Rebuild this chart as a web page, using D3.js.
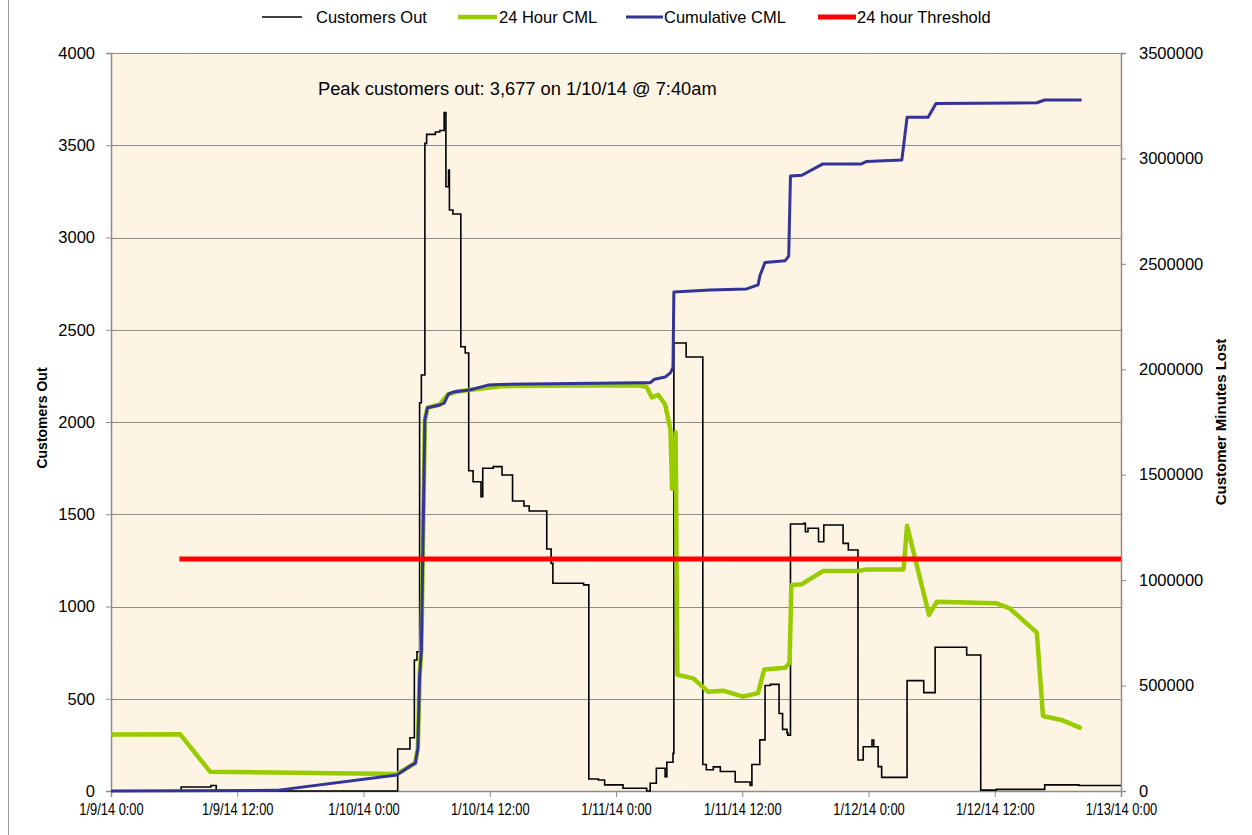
<!DOCTYPE html>
<html><head><meta charset="utf-8">
<script src="https://cdn.jsdelivr.net/npm/d3@7"></script>
<style>
body{margin:0;background:#fff;}
svg{display:block;}
text{font-family:"Liberation Sans",Arial,sans-serif;fill:#000;}
</style></head><body>
<svg id="chart" width="1252" height="835"></svg>
<script>
// ---- Data ----
const seriesNames = ["Customers Out","24 Hour CML","Cumulative CML","24 hour Threshold"];
const leftTicks = [0,500,1000,1500,2000,2500,3000,3500,4000];
const rightTicks = [0,500000,1000000,1500000,2000000,2500000,3000000,3500000];

const outTimes = ["2014-01-09 00:00","2014-01-09 06:40","2014-01-09 09:30","2014-01-09 10:00",
"2014-01-10 03:15","2014-01-10 04:25","2014-01-10 04:50","2014-01-10 05:05","2014-01-10 05:20","2014-01-10 05:30",
"2014-01-10 05:50","2014-01-10 06:00","2014-01-10 06:50","2014-01-10 07:15","2014-01-10 07:40","2014-01-10 07:50",
"2014-01-10 08:05","2014-01-10 08:10","2014-01-10 08:30","2014-01-10 09:15","2014-01-10 09:40","2014-01-10 10:00",
"2014-01-10 10:25","2014-01-10 11:10","2014-01-10 11:20","2014-01-10 12:20","2014-01-10 13:10","2014-01-10 14:10",
"2014-01-10 15:15","2014-01-10 15:45","2014-01-10 17:25","2014-01-10 17:50","2014-01-10 18:00","2014-01-10 20:55",
"2014-01-10 21:25","2014-01-10 22:20","2014-01-10 22:55","2014-01-11 00:40","2014-01-11 02:55","2014-01-11 03:15",
"2014-01-11 03:50","2014-01-11 04:40","2014-01-11 04:50","2014-01-11 05:25","2014-01-11 05:30","2014-01-11 06:40",
"2014-01-11 08:15","2014-01-11 08:35","2014-01-11 09:15","2014-01-11 09:55","2014-01-11 11:20","2014-01-11 12:45",
"2014-01-11 12:55","2014-01-11 13:40","2014-01-11 14:10","2014-01-11 14:40","2014-01-11 15:30","2014-01-11 15:50",
"2014-01-11 16:15","2014-01-11 16:20","2014-01-11 16:35","2014-01-11 17:50","2014-01-11 18:00","2014-01-11 18:15",
"2014-01-11 19:15","2014-01-11 19:45","2014-01-11 21:35","2014-01-11 22:05","2014-01-11 23:00","2014-01-11 23:30",
"2014-01-12 00:20","2014-01-12 00:30","2014-01-12 00:55","2014-01-12 01:15","2014-01-12 03:40","2014-01-12 05:15",
"2014-01-12 06:20","2014-01-12 09:20","2014-01-12 10:40","2014-01-12 12:10","2014-01-12 16:45","2014-01-12 20:00",
"2014-01-13 00:00"];
const outValues = [0,22,30,0,
228,289,710,755,2104,2255,
3510,3559,3572,3580,3677,3275,
3366,3149,3127,2408,2374,1736,
1676,1595,1749,1758,1713,1572,
1545,1518,1312,1234,1126,1117,
65,60,33,15,0,42,
123,78,156,204,2428,2352,
144,115,131,106,49,30,
144,277,572,578,420,334,
315,303,1447,1451,1405,1424,
1351,1442,1342,1306,168,240,
276,240,132,74,598,533,
779,737,5,9,33,30,
30];

const cml24Times = ["2014-01-09 00:00","2014-01-09 06:35","2014-01-09 09:25","2014-01-10 03:10","2014-01-10 04:35",
"2014-01-10 04:55","2014-01-10 05:10","2014-01-10 05:20","2014-01-10 05:30","2014-01-10 05:40","2014-01-10 05:50",
"2014-01-10 06:05","2014-01-10 07:15","2014-01-10 08:00","2014-01-10 08:50","2014-01-10 10:05","2014-01-10 13:00",
"2014-01-11 02:15","2014-01-11 02:55","2014-01-11 03:25","2014-01-11 04:00","2014-01-11 04:40","2014-01-11 05:10",
"2014-01-11 05:20","2014-01-11 05:40","2014-01-11 05:50","2014-01-11 07:20","2014-01-11 08:45","2014-01-11 10:10",
"2014-01-11 12:05","2014-01-11 13:30","2014-01-11 14:05","2014-01-11 16:05","2014-01-11 16:30","2014-01-11 16:40",
"2014-01-11 17:40","2014-01-11 19:40","2014-01-11 23:00","2014-01-11 23:50","2014-01-12 03:20","2014-01-12 03:40",
"2014-01-12 05:45","2014-01-12 06:30","2014-01-12 12:10","2014-01-12 13:25","2014-01-12 16:00","2014-01-12 16:35",
"2014-01-12 18:20","2014-01-12 20:15"];
const cml24Values = [268000,269000,91500,80600,122000,
135000,205000,545000,672000,1225000,1762000,
1818000,1833000,1880000,1893000,1902000,1920000,
1924000,1916000,1866000,1879000,1833000,1717000,
1433000,1700000,551000,534000,471000,476000,
448000,464000,576000,584000,609000,977000,
981000,1043000,1043000,1051000,1051000,1258000,
835000,898000,890000,866000,751000,356000,
337000,297000];

const cmlTimes = ["2014-01-09 00:00","2014-01-09 15:45","2014-01-10 03:10","2014-01-10 04:35","2014-01-10 04:55",
"2014-01-10 05:10","2014-01-10 05:20","2014-01-10 05:30","2014-01-10 05:40","2014-01-10 05:50","2014-01-10 06:05",
"2014-01-10 07:15","2014-01-10 07:40","2014-01-10 08:05","2014-01-10 08:40","2014-01-10 10:05","2014-01-10 11:50",
"2014-01-10 13:00","2014-01-11 02:15","2014-01-11 03:15","2014-01-11 03:40","2014-01-11 04:40","2014-01-11 05:10",
"2014-01-11 05:25","2014-01-11 05:30","2014-01-11 08:55","2014-01-11 12:25","2014-01-11 13:30","2014-01-11 13:40",
"2014-01-11 14:10","2014-01-11 16:05","2014-01-11 16:25","2014-01-11 16:35","2014-01-11 17:40","2014-01-11 19:40",
"2014-01-11 23:20","2014-01-11 23:50","2014-01-12 03:10","2014-01-12 03:40","2014-01-12 05:40","2014-01-12 06:25",
"2014-01-12 16:00","2014-01-12 16:45","2014-01-12 20:15"];
const cmlValues = [0,3000,76000,123000,131000,
202000,542000,669000,1222000,1759000,1818000,
1831000,1840000,1883000,1894000,1902000,1925000,
1928000,1936000,1936000,1953000,1963000,1983000,
2008000,2366000,2376000,2381000,2400000,2442000,
2507000,2515000,2537000,2917000,2920000,2974000,
2974000,2986000,2992000,3195000,3195000,3261000,
3264000,3277000,3277000];

const thresholdTimes = ["2014-01-09 06:30","2014-01-13 00:00"];
const thresholdValues = [1100000,1100000];

const xDomain = ["2014-01-09 00:00","2014-01-13 00:00"];
const annotation = "Peak customers out: 3,677 on 1/10/14 @ 7:40am";

// ---- Layout ----
const parse = d3.timeParse("%Y-%m-%d %H:%M");
const svg = d3.select("#chart");
const L=111, R=1121, T=53, B=791;

const x = d3.scaleTime().domain(xDomain.map(parse)).range([L,R]);
const yL = d3.scaleLinear().domain([0,4000]).range([B,T]);
const yR = d3.scaleLinear().domain([0,3500000]).range([B,T]);

// background texture
const defs = svg.append("defs");
const f = defs.append("filter").attr("id","paper").attr("x",0).attr("y",0).attr("width","100%").attr("height","100%");
f.append("feTurbulence").attr("type","fractalNoise").attr("baseFrequency","0.03").attr("numOctaves",3).attr("seed",4);
f.append("feColorMatrix").attr("type","matrix")
 .attr("values","0 0 0 0 0.96  0 0 0 0 0.90  0 0 0 0 0.76  0.35 0 0 0 -0.12");
f.append("feComposite").attr("in2","SourceGraphic").attr("operator","in");

// outer frame line
svg.append("line").attr("x1",8.5).attr("x2",8.5).attr("y1",0).attr("y2",835).attr("stroke","#999").attr("stroke-width",1);

svg.append("rect").attr("x",L).attr("y",T).attr("width",R-L).attr("height",B-T).attr("fill","#fdf4e4");
svg.append("rect").attr("x",L).attr("y",T).attr("width",R-L).attr("height",B-T).attr("fill","#fdf4e4").attr("filter","url(#paper)");

// gridlines
svg.append("g").selectAll("line").data(leftTicks.filter(d=>d>0)).join("line")
  .attr("x1",L).attr("x2",R).attr("y1",d=>Math.round(yL(d))+0.5).attr("y2",d=>Math.round(yL(d))+0.5)
  .attr("stroke","#8c8c8c").attr("stroke-width",1);

// axes
const axL = svg.append("g").attr("transform",`translate(${L},0)`)
  .call(d3.axisLeft(yL).tickValues(leftTicks).tickSize(5).tickPadding(11).tickFormat(d3.format("d")));
const axR = svg.append("g").attr("transform",`translate(${R},0)`)
  .call(d3.axisRight(yR).tickValues(rightTicks).tickSize(5).tickPadding(13).tickFormat(d3.format("d")));
const axB = svg.append("g").attr("transform",`translate(0,${B})`)
  .call(d3.axisBottom(x).ticks(d3.timeHour.every(12)).tickSize(6).tickPadding(6).tickFormat(d3.timeFormat("%-m/%-d/%y %-H:%M")));
[axL,axR,axB].forEach(a=>{
  a.selectAll("path,line").attr("stroke","#8c8c8c");
  a.select(".domain").attr("stroke-width",1.5);
  a.selectAll("text").attr("font-size",16.5).attr("font-family","Liberation Sans, Arial, sans-serif").attr("fill","#000");
});
axB.selectAll("text").attr("font-size",16.5).attr("transform","scale(0.78,1)");

// axis titles
svg.append("text").attr("transform",`translate(47,418) rotate(-90)`).attr("text-anchor","middle")
  .attr("font-size",14).attr("font-weight","bold").text("Customers Out");
svg.append("text").attr("transform",`translate(1226,422) rotate(-90)`).attr("text-anchor","middle")
  .attr("font-size",15).attr("font-weight","bold").text("Customer Minutes Lost");

// series
const zip = (ts,vs)=>ts.map((t,i)=>({t:parse(t),v:vs[i]}));
const outData = zip(outTimes,outValues);
const cml24Data = zip(cml24Times,cml24Values);
const cmlData = zip(cmlTimes,cmlValues);
const thrData = zip(thresholdTimes,thresholdValues);

svg.append("path").datum(outData).attr("fill","none").attr("stroke","#000").attr("stroke-width",1.6)
  .attr("d",d3.line().x(d=>x(d.t)).y(d=>yL(d.v)).curve(d3.curveStepAfter));
svg.append("path").datum(cml24Data).attr("fill","none").attr("stroke","#99cc00").attr("stroke-width",4.5)
  .attr("stroke-linejoin","round").attr("d",d3.line().x(d=>x(d.t)).y(d=>yR(d.v)));
svg.append("path").datum(cmlData).attr("fill","none").attr("stroke","#333399").attr("stroke-width",3)
  .attr("stroke-linejoin","round").attr("d",d3.line().x(d=>x(d.t)).y(d=>yR(d.v)));
svg.append("path").datum(thrData).attr("fill","none").attr("stroke","#ff0000").attr("stroke-width",5)
  .attr("d",d3.line().x(d=>x(d.t)).y(d=>yR(d.v)));

// annotation
svg.append("text").attr("x",318).attr("y",95).attr("font-size",18.3).text(annotation);

// legend
const legend = [
  {name:seriesNames[0],color:"#000",w:1.6,x1:262,x2:302,tx:316},
  {name:seriesNames[1],color:"#99cc00",w:4.5,x1:458,x2:497,tx:499},
  {name:seriesNames[2],color:"#333399",w:3,x1:626,x2:663,tx:664},
  {name:seriesNames[3],color:"#ff0000",w:5,x1:818,x2:856,tx:857}
];
const lg = svg.append("g");
lg.selectAll("line").data(legend).join("line").attr("x1",d=>d.x1).attr("x2",d=>d.x2).attr("y1",17).attr("y2",17)
  .attr("stroke",d=>d.color).attr("stroke-width",d=>d.w);
lg.selectAll("text").data(legend).join("text").attr("x",d=>d.tx).attr("y",23).attr("font-size",16.5).text(d=>d.name);
</script></body></html>
